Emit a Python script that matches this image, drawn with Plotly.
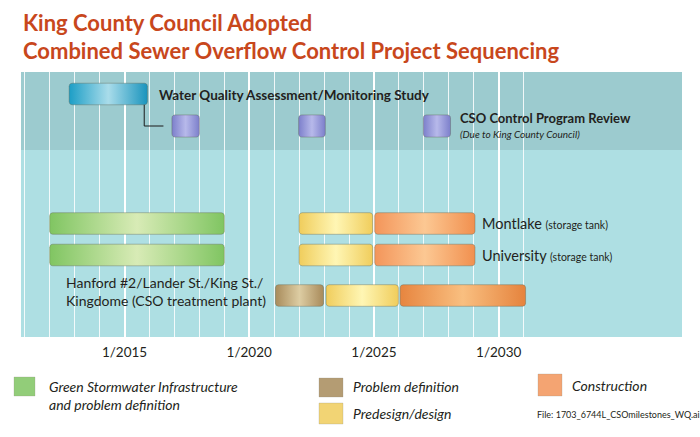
import numpy as np
import plotly.graph_objects as go

# ---------------- data ----------------
projects = ["Montlake", "University", "Hanford #2/Lander St./King St./<br>Kingdome (CSO treatment plant)"]
project_notes = ["(storage tank)", "(storage tank)", ""]

gsi_start = [2012.0, 2012.0, None]
gsi_end = [2019.0, 2019.0, None]
probdef_start = [None, None, 2021.05]
probdef_end = [None, None, 2022.98]
design_start = [2022.0, 2022.0, 2023.08]
design_end = [2024.95, 2024.95, 2025.98]
constr_start = [2025.03, 2025.03, 2026.05]
constr_end = [2029.05, 2029.05, 2031.08]

wq_study_start = 2012.78
wq_study_end = 2015.92
review_start = [2016.9, 2021.98, 2026.98]
review_end = [2018.0, 2023.05, 2028.07]

tick_years = [2015, 2020, 2025, 2030]
tick_labels = ["1/2015", "1/2020", "1/2025", "1/2030"]
grid_years = list(range(2011, 2032))

# ---------------- layout constants ----------------
W, H = 700, 437
PL, PR, PT, PB = 21, 682, 72, 337          # plot box in pixels
X_RANGE = [2010.85, 2037.35]
PX_PER_YR = (PR - PL) / (X_RANGE[1] - X_RANGE[0])
Y_RANGE = [0, PB - PT]                       # 1 unit = 1 px
lane_wq, lane_review = 243, 211
lane_proj = [113.5, 82, 41.5]
band_bottom = 187
HH = 10.8

FONT = "Lato, Roboto, sans-serif"
TXT = "#231f20"

C = {
    "wq": ("#1c9ec6", "#a9dcea", "#1a94bd"),
    "review": ("#7c7fcb", "#b7b9ea", "#7c7fcb"),
    "gsi": ("#80c562", "#d8ebb6", "#80c562"),
    "probdef": ("#a88b5b", "#ddcda3", "#a88a5a"),
    "design": ("#f0cd5c", "#fff6b4", "#f0cd5c"),
    "constr": ("#f3955a", "#fcc893", "#f1904f"),
    "constr2": ("#e7853f", "#f9bf80", "#e5833d"),
}


def rrect(x0, x1, yc, hh, rpx=3.0):
    rx, ry = rpx / PX_PER_YR, rpx
    y0, y1 = yc - hh, yc + hh
    xs, ys = [], []

    def arc(cx, cy, a0, a1):
        t = np.linspace(np.radians(a0), np.radians(a1), 6)
        xs.extend(cx + rx * np.cos(t))
        ys.extend(cy + ry * np.sin(t))

    arc(x1 - rx, y0 + ry, -90, 0)
    arc(x1 - rx, y1 - ry, 0, 90)
    arc(x0 + rx, y1 - ry, 90, 180)
    arc(x0 + rx, y0 + ry, 180, 270)
    xs.append(xs[0]); ys.append(ys[0])
    return xs, ys


fig = go.Figure()


def add_bar(x0, x1, yc, key, hh=HH):
    xs, ys = rrect(x0, x1, yc, hh)
    e0, m, e1 = C[key]
    fig.add_trace(go.Scatter(
        x=xs, y=ys, mode="lines", fill="toself",
        fillgradient=dict(type="horizontal",
                          colorscale=[[0, e0], [0.5, m], [1, e1]]),
        line=dict(color="rgba(90,90,70,0.45)", width=0.8),
        hoverinfo="skip", showlegend=False))


# water quality study and connector
add_bar(wq_study_start, wq_study_end, lane_wq, "wq")
cx = wq_study_end - 0.13
fig.add_trace(go.Scatter(
    x=[cx, cx, review_start[0] - 0.34],
    y=[lane_wq - HH, lane_review, lane_review],
    mode="lines", line=dict(color="#1a1a1a", width=1),
    hoverinfo="skip", showlegend=False))
for s, e in zip(review_start, review_end):
    add_bar(s, e, lane_review, "review", hh=11.1)

for i in range(len(projects)):
    y = lane_proj[i]
    if gsi_start[i] is not None:
        add_bar(gsi_start[i], gsi_end[i], y, "gsi")
    if probdef_start[i] is not None:
        add_bar(probdef_start[i], probdef_end[i], y, "probdef")
    add_bar(design_start[i], design_end[i], y, "design")
    add_bar(constr_start[i], constr_end[i], y, "constr2" if i == 2 else "constr")

# ---------------- annotations ----------------
ann = []


def px(xp):
    return xp / W


def py(yp):
    return 1 - yp / H


for txt, yy in [("King County Council Adopted", 23),
                ("Combined Sewer Overflow Control Project Sequencing", 51)]:
    ann.append(dict(text=f"<b>{txt}</b>", x=px(21), y=py(yy),
                    xref="paper", yref="paper", xanchor="left", yanchor="middle",
                    showarrow=False, font=dict(family=FONT, size=22, color="#c8471c")))

ann.append(dict(text="<b>Water Quality Assessment/Monitoring Study</b>",
                x=wq_study_end + 0.38, y=lane_wq - 1, xref="x", yref="y",
                xanchor="left", yanchor="middle", showarrow=False,
                font=dict(family=FONT, size=13.5, color=TXT)))
ann.append(dict(text="<b>CSO Control Program Review</b>",
                x=review_end[-1] + 0.28, y=lane_review + 8, xref="x", yref="y",
                xanchor="left", yanchor="middle", showarrow=False,
                font=dict(family=FONT, size=13, color=TXT)))
ann.append(dict(text="<i>(Due to King County Council)</i>",
                x=review_end[-1] + 0.3, y=lane_review - 8, xref="x", yref="y",
                xanchor="left", yanchor="middle", showarrow=False,
                font=dict(family=FONT, size=10, color=TXT)))

for i in range(2):
    ann.append(dict(text=f"{projects[i]} <span style='font-size:10.5px'>{project_notes[i]}</span>",
                    x=constr_end[i] + 0.22, y=lane_proj[i], xref="x", yref="y",
                    xanchor="left", yanchor="middle", showarrow=False,
                    font=dict(family=FONT, size=14.5, color=TXT)))
ann.append(dict(text=projects[2], x=probdef_start[2] - 0.3, y=lane_proj[2] + 4,
                xref="x", yref="y", xanchor="right", yanchor="middle", align="left",
                showarrow=False, font=dict(family=FONT, size=14, color=TXT)))

# legend
legend_items = [
    ("gsi", (14, 35, 377, 396), "<i>Green Stormwater Infrastructure<br>and problem definition</i>", (47, 395)),
    ("probdef", (319, 343, 378, 397), "<i>Problem definition</i>", (351, 386)),
    ("design", (319, 343, 403, 424), "<i>Predesign/design</i>", (351, 413)),
    ("constr", (538, 562, 374, 396), "<i>Construction</i>", (570, 385)),
]
shapes = []
for key, (x0, x1, y0, y1), label, (tx, ty) in legend_items:
    shapes.append(dict(type="rect", xref="paper", yref="paper",
                       x0=px(x0), x1=px(x1), y0=py(y1), y1=py(y0),
                       fillcolor=C[key][0], opacity=0.85,
                       line=dict(color="rgba(120,120,100,0.4)", width=0.6)))
    ann.append(dict(text=label, x=px(tx), y=py(ty), xref="paper", yref="paper",
                    xanchor="left", yanchor="middle", align="left", showarrow=False,
                    font=dict(family=FONT, size=14, color=TXT)))
ann.append(dict(text="File: 1703_6744L_CSOmilestones_WQ.ai", x=px(535), y=py(414),
                xref="paper", yref="paper", xanchor="left", yanchor="middle",
                showarrow=False, font=dict(family=FONT, size=9, color=TXT)))

# darker top band
shapes.append(dict(type="rect", xref="x domain", yref="y", x0=0, x1=1,
                   y0=band_bottom, y1=Y_RANGE[1], fillcolor="#9ccbcf",
                   line=dict(width=0), layer="below"))

fig.update_layout(
    width=W, height=H,
    margin=dict(l=0, r=0, t=0, b=0, autoexpand=False),
    paper_bgcolor="white", plot_bgcolor="#aedfe3",
    showlegend=False,
    xaxis=dict(domain=[PL / W, PR / W], range=X_RANGE,
               tickvals=tick_years, ticktext=tick_labels, ticks="",
               showgrid=True, gridcolor="white", gridwidth=2,
               minor=dict(tickvals=grid_years, showgrid=True,
                          gridcolor="rgba(255,255,255,0.85)", gridwidth=1),
               tickfont=dict(family=FONT, size=13.5, color=TXT),
               ticklabelstandoff=5,
               zeroline=False, showline=False, fixedrange=True),
    yaxis=dict(domain=[1 - PB / H, 1 - PT / H], range=Y_RANGE,
               showgrid=False, zeroline=False, showticklabels=False,
               fixedrange=True),
    annotations=ann, shapes=shapes,
)

fig.write_html("out.html", config={"displayModeBar": False},
               post_script="document.body.style.margin='0';document.body.style.overflow='hidden';")
